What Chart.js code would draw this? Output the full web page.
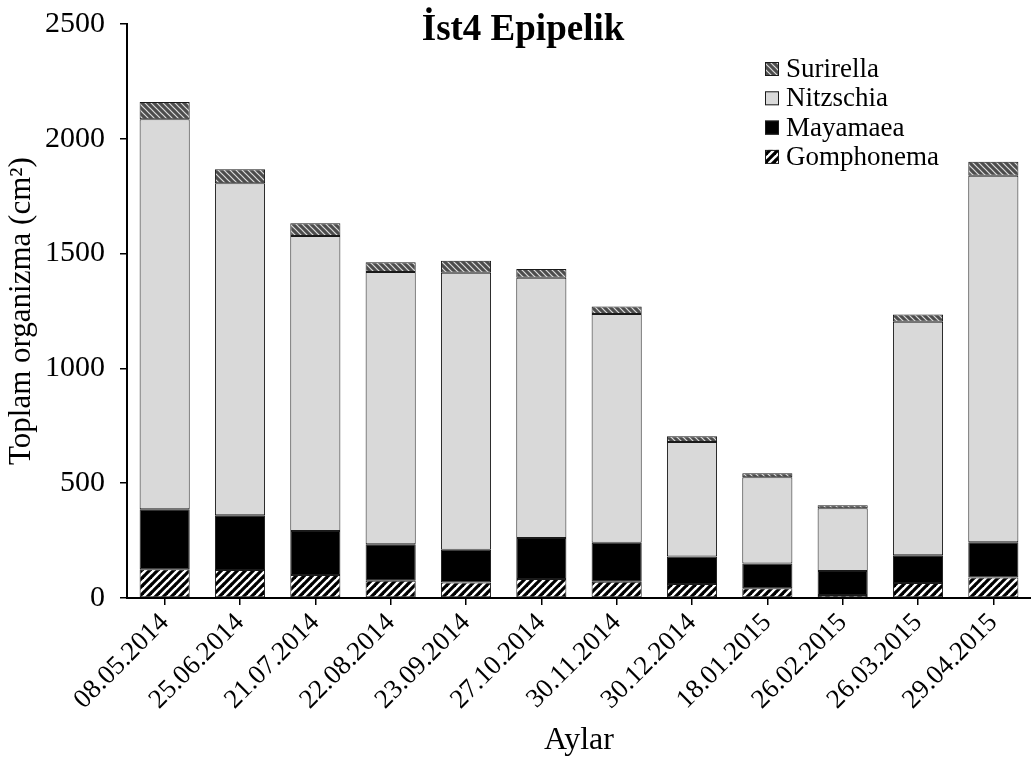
<!DOCTYPE html>
<html>
<head>
<meta charset="utf-8">
<script src="https://cdn.jsdelivr.net/npm/chart.js@4.4.1/dist/chart.umd.min.js"></script>
<style>
    html, body { margin: 0; padding: 0; background: #fff; }
    #chart_container { width: 1031px; height: 758px; }
</style>
</head>
<body>
<div id="chart_container">
    <canvas id="epipelik"></canvas>
</div>
<script>
    // values
    const aylar = ["08.05.2014", "25.06.2014", "21.07.2014", "22.08.2014", "23.09.2014", "27.10.2014",
                   "30.11.2014", "30.12.2014", "18.01.2015", "26.02.2015", "26.03.2015", "29.04.2015"];
    const gomphonema = [125, 122, 100, 75, 67, 83, 71, 61, 42, 13, 65, 89];
    const mayamaea   = [261, 238, 192, 159, 143, 178, 170, 120, 108, 105, 121, 154];
    const nitzschia  = [1699, 1446, 1285, 1186, 1207, 1134, 996, 498, 376, 273, 1017, 1596];
    const surirella  = [75, 61, 55, 42, 52, 38, 33, 25, 17, 13, 32, 61];
    const yTicks = [0, 500, 1000, 1500, 2000, 2500];

    const serif = "'Liberation Serif', 'Times New Roman', serif";

    function stripes(size, bg, fg, width, back) {
        const c = document.createElement('canvas');
        c.width = size; c.height = size;
        const g = c.getContext('2d');
        g.fillStyle = bg;
        g.fillRect(0, 0, size, size);
        g.strokeStyle = fg;
        g.lineWidth = width;
        for (let k = -1; k <= 1; k++) {
            g.beginPath();
            if (back) {
                g.moveTo(k * size - 1, -1);
                g.lineTo(k * size + size + 1, size + 1);
            } else {
                g.moveTo(k * size - 1, size + 1);
                g.lineTo(k * size + size + 1, -1);
            }
            g.stroke();
        }
        return g.createPattern(c, 'repeat');
    }

    const ctx = document.getElementById('epipelik');
    const gomphFill = stripes(8, '#ffffff', '#000000', 3.2, false);
    const surirFill = stripes(6, '#4d4d4d', '#dcdcdc', 1.2, true);

    const legendItems = [
        { text: 'Surirella', fill: surirFill },
        { text: 'Nitzschia', fill: '#d9d9d9' },
        { text: 'Mayamaea', fill: '#000000' },
        { text: 'Gomphonema', fill: gomphFill },
    ];

    const extras = {
        id: 'extras',
        afterDraw(chart) {
            const c = chart.ctx;
            c.save();
            // title
            c.fillStyle = '#000';
            c.font = "bold 37px " + serif;
            c.textAlign = 'center';
            c.textBaseline = 'alphabetic';
            c.fillText('İst4 Epipelik', 523, 40);
            // legend
            c.font = "27px " + serif;
            c.textAlign = 'left';
            c.textBaseline = 'middle';
            legendItems.forEach(function (it, i) {
                const cy = 69 + i * 29.3;
                c.fillStyle = it.fill;
                c.fillRect(765, cy - 7, 14, 14);
                c.strokeStyle = '#1a1a1a';
                c.lineWidth = 1;
                c.strokeRect(765.5, cy - 6.5, 13, 13);
                c.fillStyle = '#000';
                c.fillText(it.text, 786, cy + 1);
            });
            c.restore();
        }
    };

    new Chart(ctx, {
        type: 'bar',
        data: {
            labels: aylar,
            datasets: [
                { label: 'Gomphonema', data: gomphonema, backgroundColor: gomphFill },
                { label: 'Mayamaea', data: mayamaea, backgroundColor: '#000000' },
                { label: 'Nitzschia', data: nitzschia, backgroundColor: '#d9d9d9' },
                { label: 'Surirella', data: surirella, backgroundColor: surirFill },
            ].map(function (d) {
                d.borderColor = '#1a1a1a';
                d.borderWidth = 1;
                d.borderSkipped = false;
                d.barPercentage = 0.665;
                d.categoryPercentage = 1;
                return d;
            })
        },
        options: {
            responsive: true,
            maintainAspectRatio: false,
            animation: false,
            layout: { padding: { left: 0, right: 0, top: 24, bottom: 0 } },
            plugins: {
                legend: { display: false },
                title: { display: false },
                tooltip: { enabled: false },
            },
            scales: {
                x: {
                    stacked: true,
                    afterFit: function (s) { s.height = 160; },
                    border: { display: true, color: '#000', width: 2 },
                    grid: { display: true, drawOnChartArea: false, offset: false, color: '#000', lineWidth: 1.5, tickLength: 7 },
                    ticks: {
                        color: '#000',
                        font: { family: serif, size: 27 },
                        minRotation: 45,
                        maxRotation: 45,
                        autoSkip: false,
                        padding: 2,
                    },
                    title: {
                        display: true,
                        text: 'Aylar',
                        color: '#000',
                        font: { family: serif, size: 32 },
                        padding: { top: 0, bottom: -2 },
                    },
                },
                y: {
                    stacked: true,
                    min: 0,
                    max: 2500,
                    afterFit: function (s) {
                        s.width = 127;
                        s.paddingTop = 0;
                        s.paddingBottom = 0;
                    },
                    afterBuildTicks: function (s) { s.ticks = yTicks.map(function (v) { return { value: v }; }); },
                    border: { display: true, color: '#000', width: 2 },
                    grid: { display: true, drawOnChartArea: false, color: '#000', lineWidth: 1.5, tickLength: 7 },
                    ticks: {
                        color: '#000',
                        font: { family: serif, size: 30 },
                        padding: 15,
                        callback: function (v) { return String(v); },
                    },
                    title: {
                        display: true,
                        text: 'Toplam organizma (cm²)',
                        color: '#000',
                        font: { family: serif, size: 31 },
                        padding: { top: 3, bottom: 0 },
                    },
                },
            },
        },
        plugins: [extras],
    });
</script>
</body>
</html>
